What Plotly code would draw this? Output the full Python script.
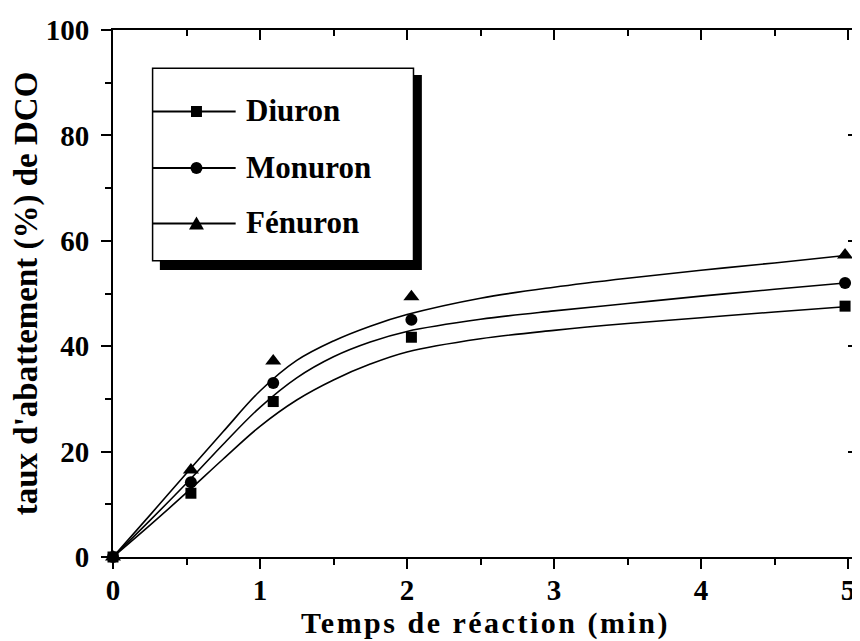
import plotly.graph_objects as go

# ---------------- data ----------------
time_min = [0, 0.53, 1.09, 2.03, 4.98]
diuron = [0, 12.1, 29.5, 41.7, 47.6]
monuron = [0, 14.2, 33.0, 45.0, 52.0]
fenuron = [0, 16.5, 37.2, 49.4, 57.3]

# fitted curves
fit_x = [0, 0.25, 0.5, 0.75, 1.0, 1.25, 1.5, 1.75, 2.0, 2.5, 3.0, 3.5, 4.0, 4.5, 4.98]
fit_diuron = [0, 6.0, 12.2, 18.6, 24.8, 29.8, 33.6, 36.6, 38.9, 41.4, 43.0, 44.3, 45.4, 46.5, 47.5]
fit_monuron = [0, 6.9, 14.0, 21.4, 28.4, 34.0, 38.0, 40.8, 42.8, 45.1, 46.7, 48.1, 49.5, 50.8, 52.0]
fit_fenuron = [0, 7.9, 15.9, 23.8, 31.5, 37.3, 41.0, 43.8, 46.0, 49.1, 51.2, 52.9, 54.4, 55.8, 57.2]

series_names = ["Diuron", "Monuron", "Fénuron"]
x_ticks = [0, 1, 2, 3, 4, 5]
y_ticks = [0, 20, 40, 60, 80, 100]

# ---------------- layout geometry ----------------
OFF = 8  # browser body margin
W_FIG, H_FIG = 860 - OFF, 641 - OFF
L, T = 113, 30          # page pixels of plot-area left / top
PW, PH = 747, 527
XMAX = 5.068
FONT = "Liberation Serif"


def px(x, y):
    return (x - L) / PW, (T + PH - y) / PH


fig = go.Figure()

symbols = ["square", "circle", "triangle-up"]
msizes = [11, 12, 14]
for name, fit_y, pts, sym, ms in zip(series_names,
                                      [fit_diuron, fit_monuron, fit_fenuron],
                                      [diuron, monuron, fenuron], symbols, msizes):
    fig.add_trace(go.Scatter(x=fit_x, y=fit_y, mode="lines",
                             line=dict(color="black", width=1.6, shape="spline", smoothing=1.0),
                             showlegend=False, hoverinfo="skip"))
    fig.add_trace(go.Scatter(x=time_min, y=pts, mode="markers", name=name, cliponaxis=False,
                             marker=dict(symbol=sym, size=ms, color="black"), showlegend=False))

fig.add_trace(go.Scatter(x=[], y=[], xaxis="x2", yaxis="y2", showlegend=False))

fig.update_layout(
    width=W_FIG, height=H_FIG,
    margin=dict(l=L - OFF, r=W_FIG - (L - OFF) - PW, t=T - OFF, b=H_FIG - (T - OFF) - PH),
    paper_bgcolor="white", plot_bgcolor="white",
    showlegend=False,
    xaxis=dict(range=[0, XMAX], showline=True, linecolor="black", linewidth=2, mirror=True,
               showgrid=False, zeroline=False,
               tickmode="array", tickvals=x_ticks, ticktext=[str(v) for v in x_ticks],
               ticks="outside", ticklen=10, tickwidth=2, tickcolor="black",
               minor=dict(dtick=0.5, ticks="outside", ticklen=6, tickwidth=2, tickcolor="black", showgrid=False),
               tickfont=dict(family=FONT, size=29, color="black", weight="bold"), ticklabelstandoff=-4,
               title=dict(text='<span style="letter-spacing:2.5px">Temps de réaction (min)</span>',
                          font=dict(family=FONT, size=30, color="black", weight="bold"), standoff=6)),
    yaxis=dict(range=[0, 100], showline=True, linecolor="black", linewidth=2, mirror=True,
               showgrid=False, zeroline=False,
               tickmode="array", tickvals=y_ticks, ticktext=[str(v) for v in y_ticks],
               ticks="outside", ticklen=10, tickwidth=2, tickcolor="black",
               minor=dict(dtick=10, ticks="outside", ticklen=6, tickwidth=2, tickcolor="black", showgrid=False),
               tickfont=dict(family=FONT, size=29, color="black", weight="bold"), ticklabelstandoff=6,
               title=dict(text="taux d'abattement (%) de DCO",
                          font=dict(family=FONT, size=33, color="black", weight="bold"), standoff=4)),
    xaxis2=dict(overlaying="x", side="top", range=[0, XMAX], showline=False, showgrid=False, zeroline=False,
                showticklabels=False, tickmode="array", tickvals=x_ticks,
                ticks="inside", ticklen=10, tickwidth=2, tickcolor="black",
                minor=dict(dtick=0.5, ticks="inside", ticklen=6, tickwidth=2, tickcolor="black", showgrid=False)),
    yaxis2=dict(overlaying="y", side="right", range=[0, 100], showline=False, showgrid=False, zeroline=False,
                showticklabels=False, tickmode="array", tickvals=y_ticks,
                ticks="inside", ticklen=10, tickwidth=2, tickcolor="black",
                minor=dict(dtick=10, ticks="inside", ticklen=6, tickwidth=2, tickcolor="black", showgrid=False)),
)

# ---------------- legend box (drawn manually) ----------------
shapes = []
x0, y0 = px(160, 75)
x1, y1 = px(422.7, 270)
shapes.append(dict(type="rect", xref="paper", yref="paper", x0=x0, y0=y1, x1=x1, y1=y0,
                   fillcolor="black", line=dict(width=0), layer="above"))
x0, y0 = px(152.7, 68.3)
x1, y1 = px(414.3, 260.7)
shapes.append(dict(type="rect", xref="paper", yref="paper", x0=x0, y0=y1, x1=x1, y1=y0,
                   fillcolor="white", line=dict(color="black", width=1.5), layer="above"))

row_y = [111.5, 168.0, 223.5]
mx = 196.7
for i, (ry, name) in enumerate(zip(row_y, series_names)):
    a, b = px(153, ry)
    c, _ = px(236, ry)
    shapes.append(dict(type="line", xref="paper", yref="paper", x0=a, y0=b, x1=c, y1=b,
                       line=dict(color="black", width=1.8), layer="above"))
    if i == 0:
        s = 5.5
        p0 = px(mx - s, ry - s)
        p1 = px(mx + s, ry + s)
        shapes.append(dict(type="rect", xref="paper", yref="paper", x0=p0[0], y0=p1[1], x1=p1[0], y1=p0[1],
                           fillcolor="black", line=dict(width=0), layer="above"))
    elif i == 1:
        r = 6
        p0 = px(mx - r, ry - r)
        p1 = px(mx + r, ry + r)
        shapes.append(dict(type="circle", xref="paper", yref="paper", x0=p0[0], y0=p1[1], x1=p1[0], y1=p0[1],
                           fillcolor="black", line=dict(width=0), layer="above"))
    else:
        ta = px(mx, ry - 7)
        tb = px(mx - 7.5, ry + 6)
        tc = px(mx + 7.5, ry + 6)
        path = f"M {ta[0]},{ta[1]} L {tb[0]},{tb[1]} L {tc[0]},{tc[1]} Z"
        shapes.append(dict(type="path", xref="paper", yref="paper", path=path,
                           fillcolor="black", line=dict(width=0), layer="above"))
    tx, ty = px(244, ry - 1)
    fig.add_annotation(x=tx, y=ty, xref="paper", yref="paper", text=name, showarrow=False,
                       xanchor="left", yanchor="middle",
                       font=dict(family=FONT, size=31, color="black", weight="bold"))

fig.update_layout(shapes=shapes)

fig.write_html("out.html")
